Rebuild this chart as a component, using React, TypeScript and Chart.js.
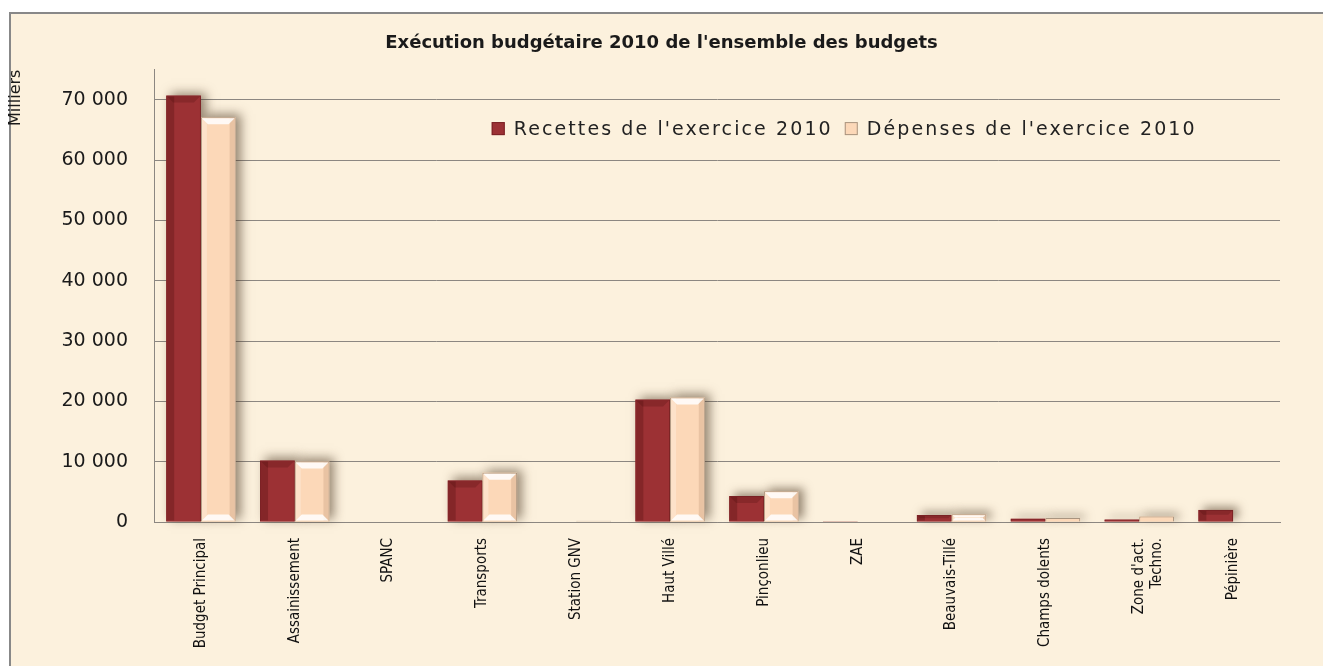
import React, { useEffect, useRef } from "react";
import { Chart, registerables } from "chart.js";

Chart.register(...registerables);

const categories: (string | string[])[] = [
  "Budget Principal",
  "Assainissement",
  "SPANC",
  "Transports",
  "Station GNV",
  "Haut Villé",
  "Pinçonlieu",
  "ZAE",
  "Beauvais-Tillé",
  "Champs dolents",
  ["Zone d'act.", "Techno."],
  "Pépinière",
];

const recettes2010 = [70700, 10200, 0, 6900, 100, 20300, 4300, 150, 1150, 550, 400, 2000];
const depenses2010 = [67100, 10050, 0, 8180, 200, 20650, 5100, 100, 1300, 650, 900, 100];

const yTicks = [0, 10000, 20000, 30000, 40000, 50000, 60000, 70000];

const titleText = "Exécution budgétaire 2010 de l'ensemble des budgets";
const yTitleText = "Milliers";
const seriesNames = ["Recettes de l'exercice 2010", "Dépenses de l'exercice 2010"];

const RED = "#9c3134";
const RED_BORDER = "#7a2225";
const PEACH = "#fcd8b8";
const PEACH_BORDER = "#a8947f";
const BG = "#fcf1dd";
const GRID = "#8c8781";

const fmt = (v: number) => String(v).replace(/\B(?=(\d{3})+(?!\d))/g, " ");

const backgroundPlugin = {
  id: "frameBg",
  beforeDraw(chart: any) {
    const { ctx, width, height } = chart;
    ctx.save();
    ctx.fillStyle = "#ffffff";
    ctx.fillRect(0, 0, width, height);
    ctx.fillStyle = BG;
    ctx.fillRect(10, 13, width, height);
    ctx.strokeStyle = "#888888";
    ctx.lineWidth = 2;
    ctx.strokeRect(10, 13, width + 10, height + 10);
    ctx.restore();
  },
};

function barRect(el: any) {
  const left = el.x - el.width / 2;
  const top = Math.min(el.y, el.base);
  const h = Math.abs(el.base - el.y);
  return { left, top, w: el.width, h, right: left + el.width, bottom: top + h };
}

const shadowPlugin = {
  id: "barShadow",
  beforeDatasetsDraw(chart: any) {
    const ctx = chart.ctx;
    ctx.save();
    ctx.shadowColor = "rgba(70,50,30,0.55)";
    ctx.shadowBlur = 10;
    ctx.shadowOffsetX = 5;
    ctx.shadowOffsetY = -3;
    chart.data.datasets.forEach((ds: any, di: number) => {
      const meta = chart.getDatasetMeta(di);
      ctx.fillStyle = ds.backgroundColor;
      meta.data.forEach((el: any) => {
        const r = barRect(el);
        if (r.h < 1) return;
        ctx.fillRect(r.left, r.top, r.w, r.h);
      });
    });
    ctx.restore();
  },
  afterDatasetsDraw(chart: any) {
    const ctx = chart.ctx;
    ctx.save();
    chart.data.datasets.forEach((ds: any, di: number) => {
      const meta = chart.getDatasetMeta(di);
      meta.data.forEach((el: any) => {
        const r = barRect(el);
        if (r.h < 6) return;
        const b = Math.min(6, r.h / 3);
        if (di === 0) {
          ctx.fillStyle = "rgba(50,0,0,0.22)";
          ctx.fillRect(r.left + 1, r.top + 1, 7, r.h - 2);
          ctx.beginPath();
          ctx.moveTo(r.left + 1, r.top + 1);
          ctx.lineTo(r.right - 1, r.top + 1);
          ctx.lineTo(r.right - 1 - b, r.top + 1 + b);
          ctx.lineTo(r.left + 1 + b, r.top + 1 + b);
          ctx.closePath();
          ctx.fillStyle = "rgba(50,0,0,0.18)";
          ctx.fill();
        } else {
          ctx.fillStyle = "rgba(150,100,70,0.18)";
          ctx.fillRect(r.right - 6, r.top + 1, 5, r.h - 2);
          ctx.fillStyle = "rgba(255,255,255,0.25)";
          ctx.fillRect(r.left + 1, r.top + 1, 5, r.h - 2);
          ctx.fillStyle = "rgba(255,255,255,0.85)";
          ctx.beginPath();
          ctx.moveTo(r.left + 1, r.top + 1);
          ctx.lineTo(r.right - 1, r.top + 1);
          ctx.lineTo(r.right - 1 - b, r.top + 1 + b);
          ctx.lineTo(r.left + 1 + b, r.top + 1 + b);
          ctx.closePath();
          ctx.fill();
          ctx.beginPath();
          ctx.moveTo(r.left + 1, r.bottom - 1);
          ctx.lineTo(r.right - 1, r.bottom - 1);
          ctx.lineTo(r.right - 1 - b, r.bottom - 1 - b);
          ctx.lineTo(r.left + 1 + b, r.bottom - 1 - b);
          ctx.closePath();
          ctx.fill();
        }
      });
    });
    ctx.restore();
  },
};

const insideLegendPlugin = {
  id: "insideLegend",
  afterDraw(chart: any) {
    const { ctx, chartArea } = chart;
    ctx.save();
    ctx.font = "19px 'DejaVu Sans', sans-serif";
    try {
      (ctx as any).letterSpacing = "2.1px";
    } catch (e) {}
    const box = 13;
    const gapBoxText = 9;
    const gapItems = 12;
    const items = chart.data.datasets.map((ds: any) => ({
      label: ds.label,
      color: ds.backgroundColor,
      border: ds.borderColor,
      w: ctx.measureText(ds.label).width,
    }));
    const total =
      items.reduce((s: number, it: any) => s + box + gapBoxText + it.w, 0) + gapItems * (items.length - 1);
    const centerX = chartArea.left + (chartArea.right - chartArea.left) * 0.613;
    const cy = chartArea.top + 59;
    let x = centerX - total / 2;
    ctx.textBaseline = "middle";
    ctx.textAlign = "left";
    for (const it of items) {
      ctx.fillStyle = it.color;
      ctx.fillRect(x, cy - box / 2, box, box);
      ctx.strokeStyle = it.border;
      ctx.lineWidth = 1;
      ctx.strokeRect(x + 0.5, cy - box / 2 + 0.5, box - 1, box - 1);
      x += box + gapBoxText;
      ctx.fillStyle = "#222222";
      ctx.fillText(it.label, x, cy + 1);
      x += it.w + gapItems;
    }
    ctx.restore();
  },
};

export default function App() {
  const canvasRef = useRef<HTMLCanvasElement | null>(null);

  useEffect(() => {
    document.body.style.margin = "0";
    const canvas = canvasRef.current;
    if (!canvas) return;
    const chart = new Chart(canvas, {
      type: "bar",
      data: {
        labels: categories as any,
        datasets: [
          {
            label: seriesNames[0],
            data: recettes2010,
            backgroundColor: RED,
            borderColor: RED_BORDER,
            borderWidth: 1,
            categoryPercentage: 0.74,
            barPercentage: 1,
          },
          {
            label: seriesNames[1],
            data: depenses2010,
            backgroundColor: PEACH,
            borderColor: PEACH_BORDER,
            borderWidth: 1,
            categoryPercentage: 0.74,
            barPercentage: 1,
          },
        ],
      },
      options: {
        responsive: true,
        maintainAspectRatio: false,
        animation: false,
        layout: { padding: { left: 0, right: 0, top: 0, bottom: 0 } },
        plugins: {
          legend: { display: false },
          tooltip: { enabled: false },
          title: {
            display: true,
            text: titleText,
            color: "#1a1a1a",
            font: { family: "'DejaVu Sans', sans-serif", size: 18, weight: "bold" },
            padding: { top: 33, bottom: 15 },
          },
        },
        scales: {
          x: {
            offset: true,
            grid: { display: false, drawTicks: false },
            border: { display: true, color: GRID, width: 1 },
            ticks: {
              autoSkip: false,
              minRotation: 90,
              maxRotation: 90,
              padding: 16,
              color: "#111111",
              font: { family: "'Liberation Sans Narrow', 'DejaVu Sans Condensed', sans-serif", size: 15 },
            },
            afterFit: (s: any) => {
              s.height = 144;
            },
          },
          y: {
            position: "left",
            min: 0,
            max: 75000,
            afterBuildTicks: (s: any) => {
              s.ticks = yTicks.map((v) => ({ value: v }));
            },
            grid: { color: GRID, lineWidth: 1, drawTicks: false },
            border: { display: true, color: GRID, width: 1 },
            ticks: {
              padding: 26,
              color: "#1a1a1a",
              font: { family: "'DejaVu Sans', sans-serif", size: 19 },
              callback: (v: any) => fmt(Number(v)),
            },
            title: {
              display: true,
              text: yTitleText,
              align: "end",
              color: "#1a1a1a",
              font: { family: "'DejaVu Sans', sans-serif", size: 16 },
              padding: { top: 6, bottom: 0 },
            },
            afterFit: (s: any) => {
              s.width = 154;
            },
          },
          y2: {
            position: "right",
            display: true,
            grid: { display: false, drawTicks: false },
            border: { display: false },
            ticks: { display: false },
            afterFit: (s: any) => {
              s.width = 43;
            },
          },
        },
      },
      plugins: [backgroundPlugin, shadowPlugin, insideLegendPlugin],
    });
    return () => chart.destroy();
  }, []);

  return (
    <div style={{ position: "relative", width: "1323px", height: "666px" }}>
      <canvas ref={canvasRef} />
    </div>
  );
}
